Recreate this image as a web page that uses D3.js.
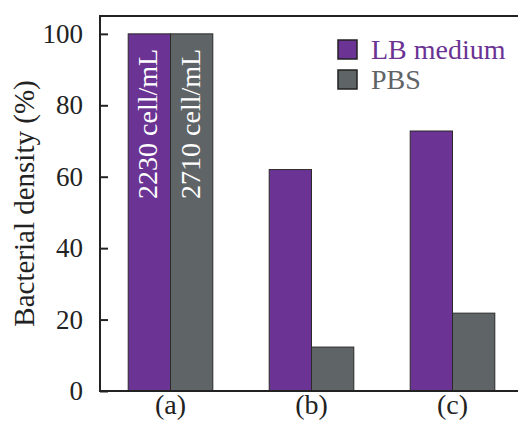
<!DOCTYPE html>
<html>
<head>
<meta charset="utf-8">
<script src="https://cdn.jsdelivr.net/npm/d3@7"></script>
<style>
  body { margin: 0; background: #fff; }
  svg { display: block; font-family: "Liberation Serif", "Times New Roman", serif; }
</style>
</head>
<body>
<div id="chart"></div>
<script>
const groups = ['(a)', '(b)', '(c)'];
const series = ['LB medium', 'PBS'];
const lbValues = [100, 62, 72.8];
const pbsValues = [100, 12.3, 21.8];
const barLabels = [['2230 cell/mL', '2710 cell/mL'], ['', ''], ['', '']];
const yTicks = [0, 20, 40, 60, 80, 100];

const colors = { 'LB medium': '#6b3393', 'PBS': '#5f6466' };

const width = 518;
const height = 423;
const margin = { top: 16, left: 100, bottom: 32, plotRight: 523 };

const rows = groups.map((g, i) => ({
  group: g,
  values: [
    { key: 'LB medium', value: lbValues[i], label: barLabels[i][0] },
    { key: 'PBS', value: pbsValues[i], label: barLabels[i][1] },
  ],
}));

const svg = d3.select('#chart')
  .append('svg')
  .attr('width', width)
  .attr('height', height);

const x0 = d3.scaleBand()
  .domain(groups)
  .range([margin.left, margin.plotRight])
  .paddingInner(0.4)
  .paddingOuter(0.2);

const x1 = d3.scaleBand()
  .domain(series)
  .range([0, x0.bandwidth()]);

const yScale = d3.scaleLinear()
  .domain([0, 105])
  .range([height - margin.bottom, margin.top]);

// bars
const g = svg.append('g')
  .selectAll('g')
  .data(rows)
  .join('g')
  .attr('transform', (d) => `translate(${x0(d.group)},0)`);

g.selectAll('rect')
  .data((d) => d.values)
  .join('rect')
  .attr('x', (d) => x1(d.key))
  .attr('y', (d) => yScale(d.value))
  .attr('width', x1.bandwidth())
  .attr('height', (d) => yScale(0) - yScale(d.value))
  .attr('fill', (d) => colors[d.key])
  .attr('stroke', '#2a2a2a')
  .attr('stroke-width', 1);

// labels inside the first pair of bars
g.selectAll('text')
  .data((d) => d.values.filter((v) => v.label))
  .join('text')
  .attr('transform', (d) =>
    `translate(${x1(d.key) + x1.bandwidth() / 2 + 8},${yScale(d.value) + 15}) rotate(-90)`)
  .attr('text-anchor', 'end')
  .attr('fill', '#fff')
  .style('font-size', '28px')
  .text((d) => d.label);

// frame
svg.append('rect')
  .attr('x', margin.left)
  .attr('y', margin.top)
  .attr('width', margin.plotRight - margin.left)
  .attr('height', yScale(0) - margin.top)
  .attr('fill', 'none')
  .attr('stroke', '#222')
  .attr('stroke-width', 2);

// y axis, inward ticks
const yAxis = svg.append('g')
  .attr('transform', `translate(${margin.left},0)`)
  .call(d3.axisLeft(yScale).tickValues(yTicks).tickSize(-8).tickPadding(17));
yAxis.select('.domain').remove();
yAxis.selectAll('.tick line').attr('stroke', '#222').attr('stroke-width', 2);
yAxis.selectAll('.tick text')
  .attr('fill', '#222')
  .style('font-size', '27px')
  .style('font-family', '"Liberation Serif", "Times New Roman", serif');

// x labels
svg.append('g')
  .selectAll('text')
  .data(groups)
  .join('text')
  .attr('x', (d) => x0(d) + x0.bandwidth() / 2)
  .attr('y', 414)
  .attr('text-anchor', 'middle')
  .attr('fill', '#222')
  .style('font-size', '28px')
  .text((d) => d);

// y title
svg.append('text')
  .attr('transform', `translate(34,${(margin.top + yScale(0)) / 2}) rotate(-90)`)
  .attr('text-anchor', 'middle')
  .attr('fill', '#222')
  .style('font-size', '29px')
  .text('Bacterial density (%)');

// legend
const legend = svg.append('g')
  .selectAll('g')
  .data(series)
  .join('g')
  .attr('transform', (d, i) => `translate(338,${40 + i * 30})`);

legend.append('rect')
  .attr('width', 19)
  .attr('height', 19)
  .attr('fill', (d) => colors[d])
  .attr('stroke', '#222')
  .attr('stroke-width', 1.5);

legend.append('text')
  .attr('x', 33)
  .attr('y', 19)
  .attr('fill', (d) => colors[d])
  .style('font-size', '28px')
  .text((d) => d);
</script>
</body>
</html>
